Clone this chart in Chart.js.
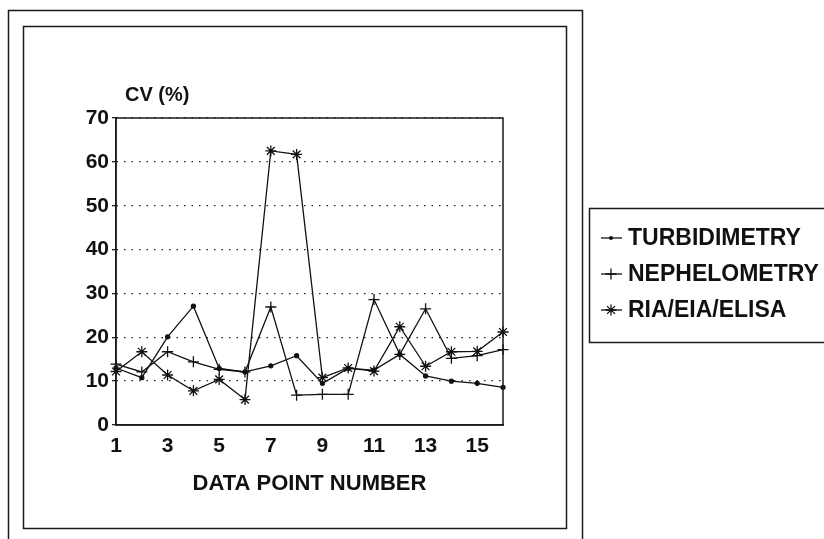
<!DOCTYPE html>
<html>
<head>
<meta charset="utf-8">
<script src="https://cdn.jsdelivr.net/npm/chart.js@4/dist/chart.umd.min.js"></script>
<style>
  html, body { margin: 0; padding: 0; background: #fff; }
  canvas { display: block; }
</style>
</head>
<body>
<canvas id="cvChart" width="824" height="539"></canvas>
<script>
// data
const pointNumbers = ['1','2','3','4','5','6','7','8','9','10','11','12','13','14','15','16'];
const turbidimetry = [13.0, 10.8, 20.1, 27.1, 12.9, 12.1, 13.5, 15.8, 9.5, 12.9, 12.5, 16.1, 11.2, 10.0, 9.5, 8.6];
const nephelometry = [13.9, 12.1, 16.7, 14.4, 12.7, 12.1, 26.9, 6.8, 7.0, 7.0, 28.6, 16.1, 26.5, 15.2, 15.8, 17.2];
const riaEiaElisa = [12.2, 16.7, 11.4, 7.8, 10.4, 5.8, 62.5, 61.7, 10.8, 13.0, 12.3, 22.4, 13.4, 16.7, 16.8, 21.2];
const yTicks = [0, 10, 20, 30, 40, 50, 60, 70];

const FONT = '"Liberation Sans", Arial, sans-serif';
const INK = '#111';

function drawMarker(ctx, style, x, y) {
    ctx.beginPath();
    if (style === 'circle') {
        ctx.arc(x, y, 2, 0, Math.PI * 2);
        ctx.fill();
        return;
    }
    const r = 5.5;
    ctx.moveTo(x - r, y); ctx.lineTo(x + r, y);
    ctx.moveTo(x, y - r); ctx.lineTo(x, y + r);
    if (style === 'star') {
        const d = r * Math.SQRT1_2;
        ctx.moveTo(x - d, y - d); ctx.lineTo(x + d, y + d);
        ctx.moveTo(x - d, y + d); ctx.lineTo(x + d, y - d);
    }
    ctx.stroke();
}

// frames, titles and the boxed legend
const decorations = {
    id: 'decorations',
    afterDraw(chart) {
        const ctx = chart.ctx;
        const a = chart.chartArea;
        ctx.save();
        ctx.setLineDash([]);
        ctx.strokeStyle = '#1a1a1a';
        ctx.lineWidth = 1.5;
        ctx.strokeRect(8.5, 10.5, 574, 545);
        ctx.strokeRect(23.5, 26.5, 543, 502);
        ctx.strokeRect(a.left, a.top, a.right - a.left, a.bottom - a.top);

        ctx.fillStyle = INK;
        ctx.textBaseline = 'middle';
        ctx.textAlign = 'left';
        ctx.font = 'bold 20px ' + FONT;
        ctx.fillText('CV (%)', 125, 95);
        ctx.textAlign = 'center';
        ctx.font = 'bold 22px ' + FONT;
        ctx.fillText('DATA POINT NUMBER', (a.left + a.right) / 2, 484);

        // legend
        ctx.strokeRect(589.5, 208.5, 260, 134);
        ctx.textAlign = 'left';
        ctx.font = 'bold 23px ' + FONT;
        const rows = [238, 274, 310];
        chart.data.datasets.forEach((ds, i) => {
            const y = rows[i];
            ctx.strokeStyle = INK;
            ctx.fillStyle = INK;
            ctx.lineWidth = 1.3;
            ctx.beginPath();
            ctx.moveTo(601, y); ctx.lineTo(622, y);
            ctx.stroke();
            drawMarker(ctx, ds.pointStyle, 611, y);
            ctx.fillText(ds.label, 628, y + 1);
        });
        ctx.restore();
    }
};

function series(label, values, style, radius) {
    return {
        label: label,
        data: values,
        borderColor: INK,
        backgroundColor: INK,
        borderWidth: 1.3,
        pointStyle: style,
        pointRadius: radius,
        pointBorderWidth: 1.3,
        pointBorderColor: INK,
        pointBackgroundColor: INK,
        tension: 0,
        fill: false
    };
}

new Chart(document.getElementById('cvChart'), {
    type: 'line',
    data: {
        labels: pointNumbers,
        datasets: [
            series('TURBIDIMETRY', turbidimetry, 'circle', 2),
            series('NEPHELOMETRY', nephelometry, 'cross', 5.5),
            series('RIA/EIA/ELISA', riaEiaElisa, 'star', 5.5)
        ]
    },
    options: {
        responsive: false,
        animation: false,
        devicePixelRatio: 1,
        layout: { padding: { left: 0, top: 118, right: 321, bottom: 0 } },
        plugins: {
            legend: { display: false },
            tooltip: { enabled: false }
        },
        scales: {
            x: {
                offset: false,
                grid: { display: false },
                border: { display: true, color: '#1a1a1a', width: 1.5 },
                ticks: {
                    autoSkip: false,
                    maxRotation: 0,
                    padding: 1,
                    color: INK,
                    font: { family: FONT, size: 21, weight: 'bold' },
                    callback: function (value, index) {
                        return index % 2 === 0 ? pointNumbers[index] : '';
                    }
                },
                afterFit: function (scale) { scale.height = 114; }
            },
            y: {
                min: yTicks[0],
                max: yTicks[yTicks.length - 1],
                afterBuildTicks: function (scale) {
                    scale.ticks = yTicks.map(v => ({ value: v }));
                },
                grid: {
                    color: '#222',
                    lineWidth: 1.3,
                    drawTicks: true,
                    tickLength: 4,
                    tickColor: '#222',
                    tickWidth: 1.3
                },
                border: { display: true, color: '#1a1a1a', width: 1.5, dash: [1.5, 6] },
                ticks: {
                    padding: 3,
                    color: INK,
                    font: { family: FONT, size: 21, weight: 'bold' }
                },
                afterFit: function (scale) { scale.width = 116; }
            }
        }
    },
    plugins: [decorations]
});
</script>
</body>
</html>
